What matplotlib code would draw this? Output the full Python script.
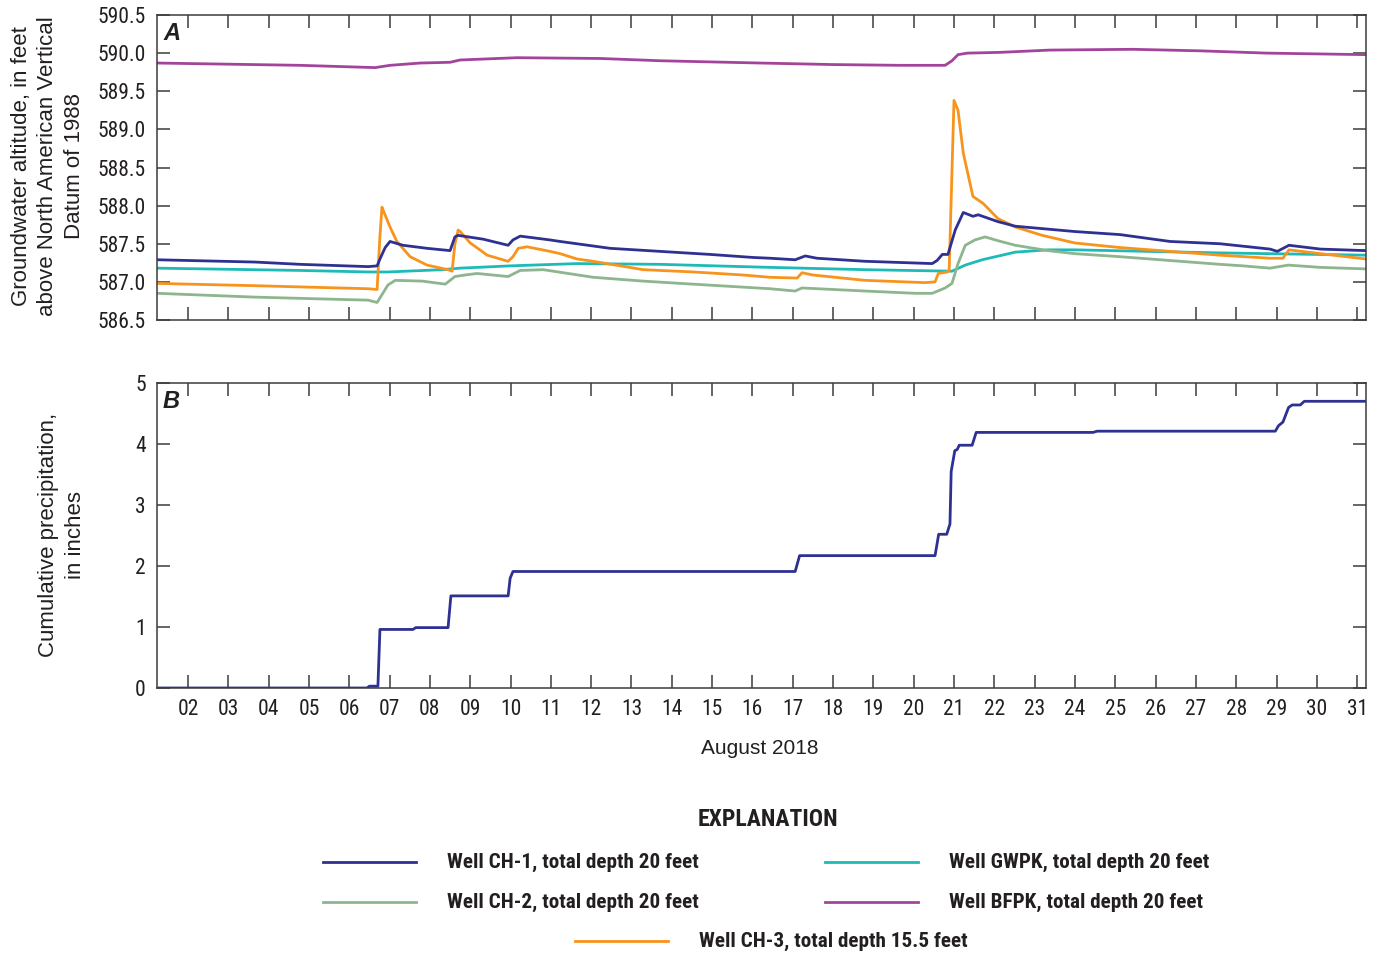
import matplotlib
matplotlib.use("Agg")
import matplotlib.pyplot as plt
from matplotlib.lines import Line2D
from matplotlib.ticker import FixedLocator, FormatStrFormatter

# Groundwater altitude, feet above NAVD 88, against day of August 2018
ch1_day = [1.23, 3.66, 4.78, 6.47, 6.69, 6.76, 6.89, 7.01, 7.33, 7.93, 8.50, 8.62,
           8.70, 9.32, 9.94, 10.06, 10.24, 10.98, 11.23, 12.47, 13.71, 14.95, 16.02,
           16.44, 17.06, 17.31, 17.60, 18.79, 20.46, 20.58, 20.71, 20.85, 21.03,
           21.23, 21.47, 21.60, 22.09, 22.52, 24.00, 25.12, 26.36, 27.60, 28.84,
           29.02, 29.31, 30.09, 31.22]
ch1_ft = [587.29, 587.26, 587.23, 587.20, 587.21, 587.30, 587.45, 587.53, 587.48,
          587.44, 587.41, 587.59, 587.61, 587.56, 587.48, 587.55, 587.60, 587.55,
          587.53, 587.44, 587.40, 587.36, 587.32, 587.31, 587.29, 587.34, 587.31,
          587.27, 587.24, 587.28, 587.36, 587.36, 587.68, 587.91, 587.86, 587.88,
          587.79, 587.73, 587.66, 587.62, 587.53, 587.50, 587.43, 587.40, 587.48,
          587.43, 587.41]

ch2_day = [1.23, 3.66, 6.47, 6.69, 6.96, 7.14, 7.81, 8.38, 8.62, 8.87, 9.17, 9.94,
           10.24, 10.81, 12.05, 13.29, 14.53, 16.44, 17.06, 17.23, 18.79, 20.04,
           20.46, 20.78, 20.95, 21.10, 21.28, 21.52, 21.77, 22.09, 22.52, 23.33,
           24.00, 25.12, 26.36, 27.60, 28.17, 28.84, 29.29, 30.09, 31.22]
ch2_ft = [586.85, 586.80, 586.76, 586.73, 586.96, 587.02, 587.01, 586.97, 587.07,
          587.09, 587.11, 587.07, 587.15, 587.16, 587.06, 587.01, 586.97, 586.91,
          586.88, 586.92, 586.88, 586.85, 586.85, 586.92, 586.98, 587.24, 587.48,
          587.55, 587.59, 587.54, 587.48, 587.41, 587.37, 587.33, 587.28, 587.23,
          587.21, 587.18, 587.22, 587.19, 587.17]

ch3_day = [1.23, 3.66, 6.47, 6.69, 6.76, 6.81, 6.84, 7.01, 7.18, 7.51, 7.93, 8.45,
           8.55, 8.62, 8.70, 8.75, 9.00, 9.24, 9.42, 9.94, 10.06, 10.19, 10.41,
           10.98, 11.23, 11.65, 12.05, 13.29, 14.53, 15.77, 16.44, 17.11, 17.23,
           17.50, 18.79, 20.28, 20.53, 20.61, 20.83, 20.88, 21.00, 21.10, 21.23,
           21.47, 21.72, 22.09, 22.52, 23.19, 24.00, 25.12, 26.36, 27.60, 28.84,
           29.16, 29.31, 30.09, 31.22]
ch3_ft = [586.98, 586.95, 586.91, 586.90, 587.60, 587.98, 587.94, 587.72, 587.53,
          587.33, 587.22, 587.16, 587.14, 587.50, 587.68, 587.66, 587.51, 587.42,
          587.35, 587.27, 587.33, 587.44, 587.46, 587.40, 587.37, 587.30, 587.27,
          587.16, 587.13, 587.09, 587.06, 587.05, 587.12, 587.09, 587.02, 586.99,
          587.00, 587.11, 587.13, 587.15, 589.38, 589.25, 588.69, 588.12, 588.03,
          587.83, 587.72, 587.61, 587.51, 587.45, 587.40, 587.35, 587.31, 587.31,
          587.42, 587.37, 587.30]

gwpk_day = [1.23, 4.78, 6.47, 6.96, 8.30, 8.75, 9.99, 11.65, 13.71, 16.44, 18.79,
            20.95, 21.28, 21.70, 22.52, 23.33, 24.00, 27.60, 31.22]
gwpk_ft = [587.18, 587.15, 587.13, 587.13, 587.16, 587.18, 587.21, 587.24, 587.23,
           587.19, 587.16, 587.14, 587.22, 587.29, 587.39, 587.42, 587.42, 587.38,
           587.35]

bfpk_day = [1.23, 4.78, 6.64, 7.01, 7.76, 8.50, 8.75, 10.16, 12.22, 13.71, 16.20,
            18.00, 19.66, 20.78, 20.95, 21.10, 21.33, 22.14, 23.38, 25.44, 27.11,
            28.77, 31.22]
bfpk_ft = [589.87, 589.84, 589.81, 589.84, 589.87, 589.88, 589.91, 589.94, 589.93,
           589.90, 589.87, 589.85, 589.84, 589.84, 589.90, 589.98, 590.00, 590.01,
           590.04, 590.05, 590.03, 590.00, 589.98]

# Cumulative precipitation, inches
precip_day = [1.23, 6.44, 6.50, 6.71, 6.76, 7.58, 7.65, 8.45, 8.52, 9.94, 9.99,
              10.06, 17.06, 17.17, 20.53, 20.62, 20.82, 20.90, 20.93, 21.02, 21.08,
              21.13, 21.45, 21.55, 24.45, 24.55, 28.97, 29.05, 29.16, 29.30, 29.39,
              29.59, 29.69, 31.22]
precip_in = [0.0, 0.0, 0.03, 0.03, 0.96, 0.96, 0.99, 0.99, 1.51, 1.51, 1.80, 1.91,
             1.91, 2.17, 2.17, 2.52, 2.52, 2.69, 3.55, 3.89, 3.91, 3.98, 3.98, 4.19,
             4.19, 4.21, 4.21, 4.30, 4.36, 4.60, 4.64, 4.64, 4.70, 4.70]

day_ticks = list(range(2, 32))
day_labels = [f"{d:02d}" for d in day_ticks]
alt_ticks = [586.5, 587.0, 587.5, 588.0, 588.5, 589.0, 589.5, 590.0, 590.5]
precip_ticks = [0, 1, 2, 3, 4, 5]

wells = [
    ("Well CH-1, total depth 20 feet", ch1_day, ch1_ft, "#2e3192"),
    ("Well CH-2, total depth 20 feet", ch2_day, ch2_ft, "#8db58e"),
    ("Well CH-3, total depth 15.5 feet", ch3_day, ch3_ft, "#f7941d"),
    ("Well GWPK, total depth 20 feet", gwpk_day, gwpk_ft, "#1dbab8"),
    ("Well BFPK, total depth 20 feet", bfpk_day, bfpk_ft, "#a3449c"),
]
draw_order = [4, 3, 1, 2, 0]

NARROW = ["Roboto Condensed", "Liberation Sans", "DejaVu Sans"]
REGULAR = ["Liberation Sans", "DejaVu Sans"]
INK = "#231f20"
FRAME = "#3c3c3c"

W, H = 1378, 957
fig = plt.figure(figsize=(W / 100, H / 100), dpi=100)


def fx(x):
    return x / W


def fy(y):
    return 1 - y / H


axA = fig.add_axes([fx(157), fy(320), (1366 - 157) / W, 305 / H])
axB = fig.add_axes([fx(157), fy(688), (1366 - 157) / W, 305 / H])

for i in draw_order:
    _, d, v, c = wells[i]
    axA.plot(d, v, color=c, lw=2.0, solid_joinstyle="round")

axB.plot(precip_day, precip_in, color="#2e3192", lw=2.0)

for ax in (axA, axB):
    ax.set_xlim(1.23, 31.22)
    ax.xaxis.set_major_locator(FixedLocator(day_ticks))
    ax.tick_params(axis="both", which="major", direction="in", length=9.5,
                   width=1.1, color=FRAME, top=True, bottom=True, left=True,
                   right=True, labelsize=15, labelcolor=INK, pad=8)
    for s in ax.spines.values():
        s.set_color(FRAME)
        s.set_linewidth(1.1)

axA.set_ylim(586.5, 590.5)
axA.yaxis.set_major_locator(FixedLocator(alt_ticks))
axA.yaxis.set_major_formatter(FormatStrFormatter("%.1f"))
axA.tick_params(axis="x", labelbottom=False)

axB.set_ylim(0, 5)
axB.yaxis.set_major_locator(FixedLocator(precip_ticks))
axB.set_xticklabels(day_labels)

for ax in (axA, axB):
    for lab in ax.get_xticklabels() + ax.get_yticklabels():
        lab.set_family(NARROW)
        lab.set_fontsize(15.5)
        lab.set_color(INK)

axA.text(0.005, 0.94, "A", transform=axA.transAxes, fontsize=17,
         fontweight="bold", fontstyle="italic", family=REGULAR, color=INK,
         ha="left", va="center")
axB.text(0.005, 0.94, "B", transform=axB.transAxes, fontsize=17,
         fontweight="bold", fontstyle="italic", family=REGULAR, color=INK,
         ha="left", va="center")

fig.text(fx(48), fy(166),
         "Groundwater altitude, in feet\nabove North American Vertical\nDatum of 1988",
         rotation=90, ha="center", va="center", multialignment="center",
         fontsize=16, family=REGULAR, color=INK, linespacing=1.35)
fig.text(fx(62), fy(535), "Cumulative precipitation,\nin inches",
         rotation=90, ha="center", va="center", multialignment="center",
         fontsize=16, family=REGULAR, color=INK, linespacing=1.35)
fig.text(fx(760), fy(748), "August 2018", ha="center", va="center",
         fontsize=15, family=REGULAR, color=INK)

# Explanation block
fig.text(fx(768), fy(820), "EXPLANATION", ha="center", va="center",
         fontsize=17, fontweight="bold", family=NARROW, color=INK)

legend_slots = {
    0: (323, 862),
    3: (825, 862),
    1: (323, 902),
    4: (825, 902),
    2: (575, 941),
}
for i, (x0, y0) in legend_slots.items():
    label, _, _, c = wells[i]
    fig.add_artist(Line2D([fx(x0), fx(x0 + 93)], [fy(y0), fy(y0)],
                          transform=fig.transFigure, color=c, lw=2.0))
    fig.text(fx(x0 + 124), fy(y0), label, ha="left", va="center",
             fontsize=15.2, fontweight="bold", family=NARROW, color=INK)

fig.savefig("out.png", dpi=100)
